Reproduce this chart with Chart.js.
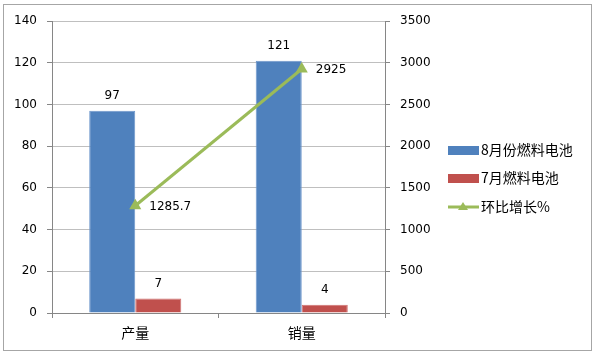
<!DOCTYPE html>
<html>
<head>
<meta charset="utf-8">
<script src="https://cdn.jsdelivr.net/npm/chart.js@4/dist/chart.umd.min.js"></script>
<style>
  html, body { margin: 0; padding: 0; background: #fff; }
  #wrap { position: relative; width: 600px; height: 358px; }
  #box { position: absolute; left: 3px; top: 4px; width: 589px; height: 347px; border: 1px solid #a6a6a6; box-sizing: border-box; pointer-events: none; }
</style>
</head>
<body>
<div id="wrap">
  <canvas id="grafico" width="600" height="358"></canvas>
  <div id="box"></div>
</div>
<script>
// datos
const categorias = ['产量', '销量'];
const agosto = [97, 121];
const julio = [7, 4];
const crecimiento = [1285.7, 2925];
const ticksIzq = [0, 20, 40, 60, 80, 100, 120, 140];
const ticksDer = [0, 500, 1000, 1500, 2000, 2500, 3000, 3500];

const AZUL = '#4F81BD', ROJO = '#C0504D', VERDE = '#9BBB59';
const fuenteNum = '12px "DejaVu Sans", Verdana, sans-serif';
const fuenteCJK = '"Noto Sans CJK SC", "DejaVu Sans", sans-serif';

// etiquetas de valores sobre barras y puntos
const etiquetas = {
    id: 'etiquetas',
    afterDatasetsDraw(chart) {
        const ctx = chart.ctx;
        ctx.save();
        ctx.font = fuenteNum;
        ctx.fillStyle = '#000';
        chart.data.datasets.forEach((ds, i) => {
            const meta = chart.getDatasetMeta(i);
            meta.data.forEach((el, j) => {
                const v = ds.data[j];
                if (ds.type === 'line') {
                    ctx.textAlign = 'left';
                    ctx.textBaseline = 'middle';
                    ctx.fillText(String(v), el.x + 14, el.y + 1);
                } else {
                    ctx.textAlign = 'center';
                    ctx.textBaseline = 'bottom';
                    ctx.fillText(String(v), el.x, el.y - 9);
                }
            });
        });
        ctx.restore();
    }
};

// leyenda dibujada a mano a la derecha
const leyenda = {
    id: 'leyenda',
    afterDraw(chart) {
        const ctx = chart.ctx;
        ctx.save();
        ctx.font = '14px ' + fuenteCJK;
        ctx.textBaseline = 'middle';
        ctx.textAlign = 'left';
        const x = 448, ys = [150, 178, 207];
        chart.data.datasets.forEach((ds, i) => {
            const y = ys[i];
            if (ds.type === 'line') {
                ctx.strokeStyle = ds.borderColor;
                ctx.lineWidth = 3;
                ctx.beginPath();
                ctx.moveTo(x, y);
                ctx.lineTo(x + 31, y);
                ctx.stroke();
                ctx.fillStyle = ds.borderColor;
                ctx.beginPath();
                ctx.moveTo(x + 15, y - 5);
                ctx.lineTo(x + 20, y + 3);
                ctx.lineTo(x + 10, y + 3);
                ctx.closePath();
                ctx.fill();
            } else {
                ctx.fillStyle = ds.backgroundColor;
                ctx.fillRect(x, y - 4, 31, 9);
            }
            ctx.fillStyle = '#000';
            ctx.fillText(ds.label, x + 33, y);
        });
        ctx.restore();
    }
};

new Chart(document.getElementById('grafico'), {
    data: {
        labels: categorias,
        datasets: [
            {
                type: 'bar', label: '8月份燃料电池', data: agosto,
                backgroundColor: AZUL, borderColor: '#6d97cc', borderWidth: 1,
                yAxisID: 'y', order: 2,
                categoryPercentage: 0.553, barPercentage: 1
            },
            {
                type: 'bar', label: '7月燃料电池', data: julio,
                backgroundColor: ROJO, borderColor: '#d07270', borderWidth: 1,
                yAxisID: 'y', order: 2,
                categoryPercentage: 0.553, barPercentage: 1
            },
            {
                type: 'line', label: '环比增长%', data: crecimiento,
                borderColor: VERDE, backgroundColor: VERDE, borderWidth: 3,
                pointStyle: 'triangle', pointRadius: 7, pointBorderWidth: 0,
                yAxisID: 'y1', order: 1
            }
        ]
    },
    options: {
        responsive: false,
        animation: false,
        layout: { padding: { top: 21, left: 0, right: 0, bottom: 0 } },
        plugins: { legend: { display: false }, tooltip: { enabled: false } },
        scales: {
            x: {
                offset: true,
                grid: { offset: true, drawOnChartArea: false, drawTicks: true, tickLength: 5, color: '#868686' },
                border: { display: true, color: '#868686' },
                ticks: { font: { family: fuenteCJK, size: 14 }, color: '#000', padding: 6 },
                afterFit: s => { s.height = 45; }
            },
            y: {
                position: 'left', min: 0, max: 140,
                afterBuildTicks: s => { s.ticks = ticksIzq.map(v => ({ value: v })); },
                grid: { color: '#bfbfbf', tickColor: '#868686', tickLength: 5 },
                border: { display: true, color: '#868686' },
                ticks: { font: { family: '"DejaVu Sans"', size: 12 }, color: '#000', padding: 10, callback: v => String(v) },
                afterFit: s => { s.width = 52; }
            },
            y1: {
                position: 'right', min: 0, max: 3500,
                afterBuildTicks: s => { s.ticks = ticksDer.map(v => ({ value: v })); },
                grid: { drawOnChartArea: false, color: '#868686', tickLength: 5 },
                border: { display: true, color: '#868686' },
                ticks: { font: { family: '"DejaVu Sans"', size: 12 }, color: '#000', padding: 10, callback: v => String(v) },
                afterFit: s => { s.width = 215; }
            }
        }
    },
    plugins: [etiquetas, leyenda]
});
</script>
</body>
</html>
